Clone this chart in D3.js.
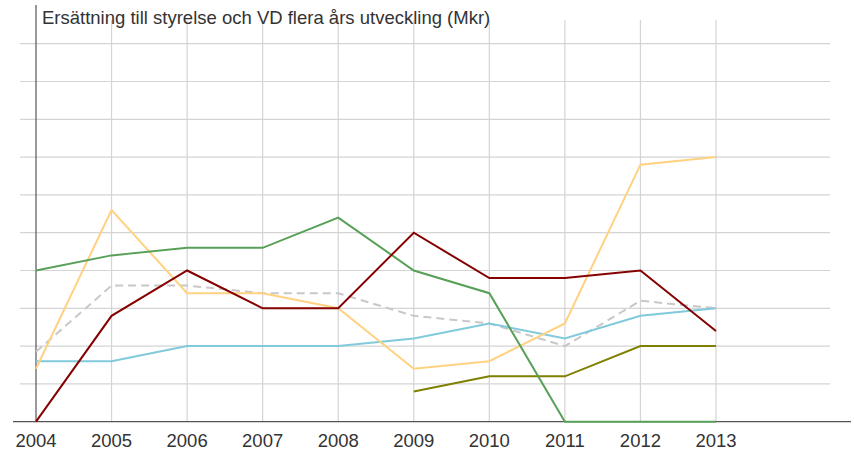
<!DOCTYPE html>
<html>
<head>
<meta charset="utf-8">
<script src="https://cdn.jsdelivr.net/npm/d3@7"></script>
<style>
  body { margin: 0; background: #fff; }
  svg { display: block; font-family: "Liberation Sans", Arial, sans-serif; }
</style>
</head>
<body>
<svg id="chart" width="854" height="451"></svg>
<script>
const W = 854, H = 451;

const years = [2004, 2005, 2006, 2007, 2008, 2009, 2010, 2011, 2012, 2013];
const yTicks = [0, 1, 2, 3, 4, 5, 6, 7, 8, 9, 10];

// serier (okänd enhet)
const blueVals   = [1.6, 1.6, 2.0, 2.0, 2.0, 2.2, 2.6, 2.2, 2.8, 3.0];
const redVals    = [0.0, 2.8, 4.0, 3.0, 3.0, 5.0, 3.8, 3.8, 4.0, 2.4];
const greenVals  = [4.0, 4.4, 4.6, 4.6, 5.4, 4.0, 3.4, 0.0, 0.0, 0.0];
const orangeVals = [1.4, 5.6, 3.4, 3.4, 3.0, 1.4, 1.6, 2.6, 6.8, 7.0];
const grayVals   = [1.85, 3.6, 3.6, 3.4, 3.4, 2.8, 2.6, 2.0, 3.2, 3.0];
const oliveVals  = [null, null, null, null, null, 0.8, 1.2, 1.2, 2.0, 2.0];

const series = [
  { vals: grayVals,   color: '#c8c8c8', dash: '8,5' },
  { vals: blueVals,   color: '#80cadb' },
  { vals: oliveVals,  color: '#808000' },
  { vals: orangeVals, color: '#ffd282' },
  { vals: greenVals,  color: '#58a058' },
  { vals: redVals,    color: '#850000' },
];

const x = d3.scaleLinear().domain([2004, 2013]).range([36, 716]);
const y = d3.scaleLinear().domain([0, 10]).range([421.7, 43.7]);

const svg = d3.select('#chart');

// horisontella stödlinjer
svg.append('g').selectAll('line')
  .data(yTicks.slice(1))
  .join('line')
  .attr('x1', 20).attr('x2', 830)
  .attr('y1', d => y(d)).attr('y2', d => y(d))
  .attr('stroke', '#d4d4d4').attr('stroke-width', 1.2);

// vertikala stödlinjer
svg.append('g').selectAll('line')
  .data(years.slice(1))
  .join('line')
  .attr('x1', d => x(d)).attr('x2', d => x(d))
  .attr('y1', 20).attr('y2', 421.7)
  .attr('stroke', '#d4d4d4').attr('stroke-width', 1.2);

// axlar
svg.append('line')
  .attr('x1', 36).attr('x2', 36).attr('y1', 5).attr('y2', 421.7)
  .attr('stroke', '#555').attr('stroke-width', 1.2);
svg.append('line')
  .attr('x1', 13).attr('x2', 851).attr('y1', 421.7).attr('y2', 421.7)
  .attr('stroke', '#555').attr('stroke-width', 1.2);

// årsetiketter
svg.append('g').selectAll('text')
  .data(years)
  .join('text')
  .attr('x', d => x(d)).attr('y', 446.5)
  .attr('text-anchor', 'middle')
  .attr('font-size', 18.5).attr('fill', '#333')
  .text(d => d);

// linjer
const line = d3.line()
  .defined(d => d.v !== null)
  .x(d => x(d.year))
  .y(d => y(d.v));

series.forEach(s => {
  svg.append('path')
    .datum(years.map((yr, i) => ({ year: yr, v: s.vals[i] })))
    .attr('d', line)
    .attr('fill', 'none')
    .attr('stroke', s.color)
    .attr('stroke-width', 2)
    .attr('stroke-dasharray', s.dash || null);
});

// titel
svg.append('text')
  .attr('x', 42).attr('y', 24)
  .attr('font-size', 18.5).attr('fill', '#333')
  .text('Ersättning till styrelse och VD flera års utveckling (Mkr)');
</script>
</body>
</html>
